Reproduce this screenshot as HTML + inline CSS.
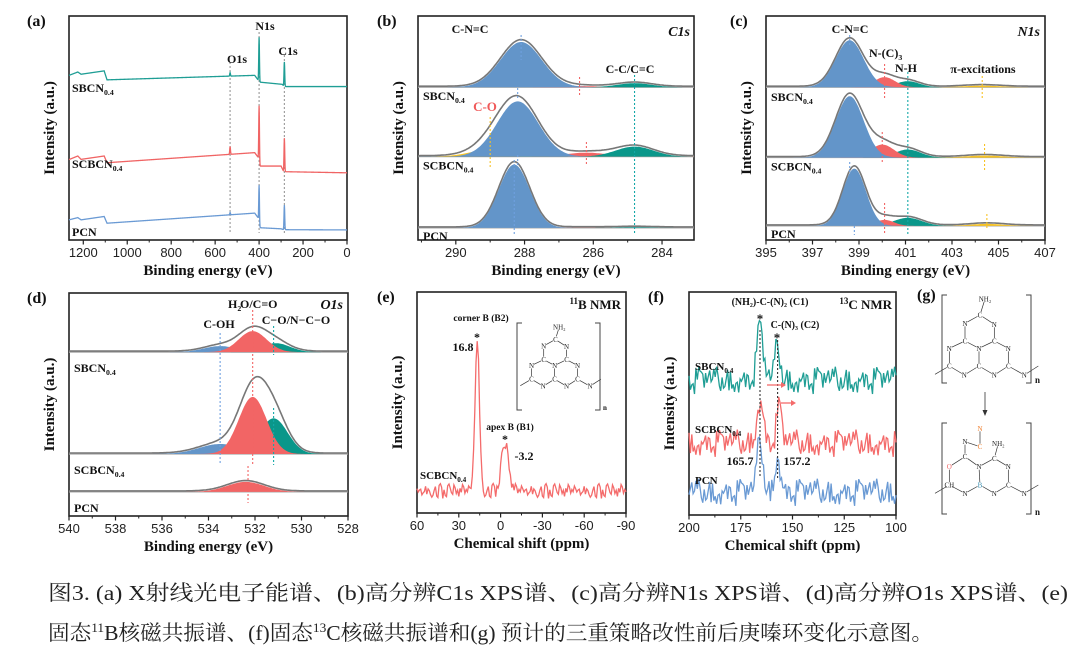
<!DOCTYPE html>
<html><head><meta charset="utf-8"><style>
html,body{margin:0;padding:0;background:#fff;width:1080px;height:662px;overflow:hidden}
svg{display:block}
.tl{font-family:"Liberation Sans",sans-serif;font-size:13px;fill:#222}
.bt{font-family:"Liberation Serif",serif;font-weight:bold}
.at{font-family:"Liberation Serif",serif;font-size:7px}
</style></head><body>
<svg id="fig" width="1080" height="662" viewBox="0 0 1080 662" xmlns="http://www.w3.org/2000/svg">
<rect width="1080" height="662" fill="#fff"/>
<g id="layer"></g>
<text x="48" y="600" font-family="'Liberation Serif','Noto Serif CJK SC',serif" font-size="21" fill="#222" textLength="1020" lengthAdjust="spacingAndGlyphs">图3. (a) X射线光电子能谱、(b)高分辨C1s XPS谱、(c)高分辨N1s XPS谱、(d)高分辨O1s XPS谱、(e)</text>
<text x="48" y="640" font-family="'Liberation Serif','Noto Serif CJK SC',serif" font-size="21" fill="#222" textLength="885" lengthAdjust="spacingAndGlyphs">固态<tspan font-size="13" dy="-8">11</tspan><tspan dy="8">B核磁共振谱、(f)固态</tspan><tspan font-size="13" dy="-8">13</tspan><tspan dy="8">C核磁共振谱和(g) 预计的三重策略改性前后庚嗪环变化示意图。</tspan></text>
</svg>
<script>
// ---------- DATA ----------
const surveyNames = ["SBCN0.4","SCBCN0.4","PCN"];
const surveyBaseSBCN = [[1265,73.5],[1225,75],[1210,74],[1105,75.5],[1092,71.5],[420,73.5],[405,71.5],[400,70.5],[295,69.5],[285,68.5],[0,68.5]];
const surveyBaseSCBCN = [[1265,35.9],[1225,37.5],[1210,36],[1105,37.5],[1092,34.5],[420,39],[405,37],[400,33],[300,33],[288,30.5],[0,30]];
const surveyBasePCN = [[1265,9],[1225,10],[1210,9],[1105,10.5],[1092,7.5],[420,12],[405,10],[400,5.5],[300,5],[288,4.6],[0,4.5]];
const surveyPeaksSBCN = [[400,20],[285,11],[532,1.5]];
const surveyPeaksSCBCN = [[400,27],[285,15],[532,3.5]];
const surveyPeaksPCN = [[400,19],[285,11],[532,1]];

// XPS rows: [center, height, sigma]
const c1sBase = [68.2,37.2,5.4];
const c1sBlue = [[288.1,20.2,0.6],[288.2,24.7,0.6],[288.3,28.3,0.45]];
const c1sRed = [[286.4,0.5,0.6],[286.2,1.8,0.6],[286.3,0.1,0.5]];
const c1sTeal = [[284.8,1.8,0.5],[284.8,4.5,0.55],[284.8,0.3,0.5]];
const c1sYellow = [[289.0,0,0.6],[289.0,3.1,0.6],[289.0,0,0.6]];

const n1sBase = [68.2,36.8,6.3];
const n1sBlue = [[398.6,21,0.6],[398.6,27.4,0.6],[398.8,25.6,0.5]];
const n1sRed = [[400.1,4.5,0.45],[400.0,5.8,0.5],[400.1,2.7,0.4]];
const n1sTeal = [[401.1,2.7,0.5],[401.1,3.6,0.55],[401.1,3.6,0.6]];
const n1sYellow = [[404.3,0.7,0.8],[404.4,0.9,0.8],[404.5,0.9,0.7]];

const o1sBase = [73.5,27.8,10.8];
const o1sBlue = [[533.5,2.7,0.7],[533.5,4.5,0.9],[533.5,0,0.7]];
const o1sRed = [[532.1,9.4,0.6],[532.1,25.6,0.6],[532.4,4.5,0.8]];
const o1sTeal = [[531.1,4,0.6],[531.2,16,0.6],[531.2,0,0.6]];
const o1sYellow = [[530,0,1],[530,0,1],[530,0,1]];

const bNmrBase = 10;
const bNmrPeaks = [[16.8,68,1.6],[-3.2,21,2.6]];
const cNmrBase = [60.5,32.3,10.3];
const cNmrPeaks = [[[165.7,23,1.5],[157.2,15,1.3]],[[165.7,19,1.6],[156.5,15,1.3]],[[165.7,23,1.4],[157.2,16.6,1.3]]];
const noise = [0.8,-1.2,1.5,-0.4,2.1,-1.8,0.3,1.1,-2.3,0.6,-0.9,1.9,-1.4,0.2,2.5,-0.7,-1.9,1.3,-0.2,0.9,-2.6,1.6,-0.5,0.4,-1.1,2.2,-1.6,0.7,1.4,-2.0,0.1,-0.8,1.8,-1.3,0.5,2.4,-2.2,-0.3,1.0,-1.5,1.7,-0.6,0.2];

// ---------- HELPERS ----------
const NS="http://www.w3.org/2000/svg";
const layer=document.getElementById('layer');
function mk(tag,attrs,parent){const e=document.createElementNS(NS,tag);for(const k in attrs)e.setAttribute(k,attrs[k]);(parent||layer).appendChild(e);return e;}
function txt(x,y,s,cls,extra,name){const ex=Object.assign({x:x,y:y,class:cls},extra||{});
 const col=ex.fill||(cls==='tl'?'#222':'#111');delete ex.fill;ex.style='fill:'+col;
 const t=mk('text',ex);t.textContent=s;
 
 
 return t;}
function sub(x,y,main,subs,size,name,fill){const t=mk('text',{x:x,y:y,class:'bt','font-size':size,style:'fill:'+(fill||'#111')});
 
 
 const a=mk('tspan',{},t);a.textContent=main;const b=mk('tspan',{'font-size':size*0.65,dy:3},t);b.textContent=subs;return t;}
function lin(d0,d1,r0,r1){return v=>r0+(v-d0)*(r1-r0)/(d1-d0);}
function gauss(x,p){return p[1]*Math.exp(-0.5*Math.pow((x-p[0])/p[2],2));}

function frame(P){
  const r=mk('rect',{x:P.x0,y:P.y0,width:P.x1-P.x0,height:P.y1-P.y0,fill:'none',stroke:'#222','stroke-width':1.6});
  
  
  P.xs=lin(P.d0,P.d1,P.x0,P.x1); P.ys=lin(0,100,P.y1,P.y0);
  for(const t of P.minor){const x=P.xs(t);const l=mk('line',{x1:x,x2:x,y1:P.y1,y2:P.y1+2.5,stroke:'#222','stroke-width':1});
    
    }
  for(const t of P.ticks){const x=P.xs(t);const l=mk('line',{x1:x,x2:x,y1:P.y1,y2:P.y1+4.5,stroke:'#222','stroke-width':1.2});
    
    
    txt(x,P.y1+17,String(t),'tl',{'text-anchor':'middle'},'x-tick-label');}
  txt((P.x0+P.x1)/2,P.y1+35,P.xt,'bt',{'text-anchor':'middle','font-size':15},'x-axis-title');
  txt(0,0,'Intensity (a.u.)','bt',{'text-anchor':'middle','font-size':15,transform:`translate(${P.x0-15},${(P.y0+P.y1)/2}) rotate(-90)`},'y-axis-title');
  txt(P.lx,P.y0+10,P.letter,'bt',{'font-size':16},'panel-letter');
}
function range(a,b,s){const r=[];for(let v=a;s>0?v<=b+1e-9:v>=b-1e-9;v+=s)r.push(+v.toFixed(3));return r;}
function dash(P,x,ya,yb,col,name){const l=mk('line',{x1:P.xs(x),x2:P.xs(x),y1:ya,y2:yb,stroke:col,'stroke-width':1.1,'stroke-dasharray':'2,2'});
  
  }

function xpsPanel(P,base,comps,cols,names){
  for(let r=0;r<3;r++){
    const b=base[r];
    const bl=mk('line',{x1:P.x0,x2:P.x1,y1:P.ys(b),y2:P.ys(b),stroke:'#aaa','stroke-width':1.2});
    
    
    const N=220;
    comps.forEach((c,ci)=>{
      const p=c[r]; if(p[1]<=0) return;
      let d=`M${P.x0},${P.ys(b)}`;
      for(let i=0;i<=N;i++){const e=P.d0+(P.d1-P.d0)*i/N;d+=` L${P.xs(e).toFixed(1)},${P.ys(b+gauss(e,p)).toFixed(1)}`;}
      d+=` L${P.x1},${P.ys(b)} Z`;
      const pa=mk('path',{d:d,fill:cols[ci],stroke:'none'});
      
      
    });
    let d='';
    for(let i=0;i<=N;i++){const e=P.d0+(P.d1-P.d0)*i/N;let s=0;comps.forEach(c=>{if(c[r][1]>0)s+=gauss(e,c[r]);});
      d+=(i?' L':'M')+P.xs(e).toFixed(1)+','+(P.ys(b+s*1.03)-1).toFixed(1);}
    const env=mk('path',{d:d,fill:'none',stroke:'#777','stroke-width':1.6});
    
    
  }
}
function rowLabels(P,base,offs){
  sub(P.x0+5,P.ys(base[0])+offs[0],'SBCN','0.4',12,'label-sbcn');
  sub(P.x0+5,P.ys(base[1])+offs[1],'SCBCN','0.4',12,'label-scbcn');
  txt(P.x0+5,P.ys(base[2])+offs[2],'PCN','bt',{'font-size':12},'label-pcn');
}

// ---------- (a) survey ----------
const A={name:'survey',x0:69,x1:347,y0:16,y1:240,d0:1265,d1:0,ticks:range(1200,0,-200),minor:range(1100,100,-200),xt:'Binding energy (eV)',lx:27,letter:'(a)'};
frame(A);
dash(A,532,62,233,'#999');dash(A,400,32,233,'#999');dash(A,285,55,233,'#999');
const surveyBases=[surveyBaseSBCN,surveyBaseSCBCN,surveyBasePCN];
const surveyPeaks=[surveyPeaksSBCN,surveyPeaksSCBCN,surveyPeaksPCN];
const surveyCols=['#1f9e95','#f06464','#6a9ad4'];
function interp(pts,e){for(let i=0;i<pts.length-1;i++){const a=pts[i],b=pts[i+1];if(e<=a[0]&&e>=b[0]){return a[1]+(b[1]-a[1])*(a[0]-e)/(a[0]-b[0]);}}return pts[pts.length-1][1];}
for(let s=0;s<3;s++){
  let d='';const N=1265;
  for(let i=0;i<=N;i++){const e=1265-i;let v=interp(surveyBases[s],e);surveyPeaks[s].forEach(p=>v+=gauss(e,[p[0],p[1],1.6]));
    d+=(i?' L':'M')+A.xs(e).toFixed(2)+','+A.ys(v).toFixed(2);}
  const pa=mk('path',{d:d,fill:'none',stroke:surveyCols[s],'stroke-width':1.3});
  
  
}
txt(237,63,'O1s','bt',{'font-size':12,'text-anchor':'middle'},'peak-label-o1s');
txt(265,30,'N1s','bt',{'font-size':12,'text-anchor':'middle'},'peak-label-n1s');
txt(288,55,'C1s','bt',{'font-size':12,'text-anchor':'middle'},'peak-label-c1s');
sub(72,92,'SBCN','0.4',12,'label-sbcn');sub(72,168,'SCBCN','0.4',12,'label-scbcn');txt(72,236,'PCN','bt',{'font-size':12},'label-pcn');

const BL='#6395c9',RD='#f26565',TL='#0a978a',YL='#f7c325';
// ---------- (b) C1s ----------
const B={name:'c1s',x0:418,x1:694,y0:16,y1:240,d0:291.1,d1:283.07,ticks:[290,288,286,284],minor:[291,289,287,285],xt:'Binding energy (eV)',lx:377,letter:'(b)'};
frame(B);
xpsPanel(B,c1sBase,[c1sYellow,c1sRed,c1sTeal,c1sBlue],[YL,RD,TL,BL],surveyNames);
dash(B,288.1,35,60,'#6fa0e0');dash(B,288.2,88,100,'#6fa0e0');dash(B,288.3,160,235,'#6fa0e0');dash(B,288.2,155,165,'#6fa0e0');
dash(B,284.8,75,235,'#14a8a8');dash(B,286.4,77,97,RD);dash(B,286.2,142,165,RD);dash(B,289.0,117,168,YL);
rowLabels(B,c1sBase,[13,13,12]);
txt(470,33,'C-N=C','bt',{'font-size':12,'text-anchor':'middle'},'peak-label-cnc');
txt(630,73,'C-C/C=C','bt',{'font-size':12,'text-anchor':'middle'},'peak-label-cc');
txt(690,36,'C1s','bt',{'font-size':14,'text-anchor':'end','font-style':'italic'},'panel-tag-c1s');
txt(485,111,'C-O','bt',{'font-size':13,'text-anchor':'middle',fill:'#f05a5a'},'peak-label-co');

// ---------- (c) N1s ----------
const C={name:'n1s',x0:766,x1:1045,y0:16,y1:240,d0:395,d1:407,ticks:range(395,407,2),minor:range(396,406,2),xt:'Binding energy (eV)',lx:730,letter:'(c)'};
frame(C);
xpsPanel(C,n1sBase,[n1sYellow,n1sTeal,n1sRed,n1sBlue],[YL,TL,RD,BL],surveyNames);
dash(C,398.6,35,45,'#6fa0e0');dash(C,398.6,162,172,'#6fa0e0');dash(C,398.8,226,235,'#6fa0e0');
dash(C,400.1,64,100,RD);dash(C,400.0,132,162,RD);dash(C,400.1,203,235,RD);
dash(C,401.1,72,235,'#14a8a8');
dash(C,404.3,76,98,YL);dash(C,404.4,144,170,YL);dash(C,404.5,214,230,YL);
rowLabels(C,n1sBase,[14,13,12]);
txt(850,33,'C-N=C','bt',{'font-size':12,'text-anchor':'middle'},'peak-label-cnc');
sub(869,57,'N-(C)','3',12,'peak-label-nc3');
txt(906,72,'N-H','bt',{'font-size':12,'text-anchor':'middle'},'peak-label-nh');
txt(983,73,'π-excitations','bt',{'font-size':12,'text-anchor':'middle'},'peak-label-pi');
txt(1040,36,'N1s','bt',{'font-size':14,'text-anchor':'end','font-style':'italic'},'panel-tag-n1s');

// ---------- (d) O1s ----------
const D={name:'o1s',x0:69,x1:348,y0:293,y1:516,d0:540,d1:528,ticks:range(540,528,-2),minor:range(539,529,-2),xt:'Binding energy (eV)',lx:27,letter:'(d)'};
frame(D);
xpsPanel(D,o1sBase,[o1sYellow,o1sBlue,o1sTeal,o1sRed],[YL,BL,TL,RD],surveyNames);
dash(D,533.5,333,465,'#6fa0e0');dash(D,532.1,310,465,RD);dash(D,531.2,326,355,'#14a8a8');dash(D,531.2,408,465,'#14a8a8');dash(D,532.3,466,503,RD);
rowLabels(D,o1sBase,[20,20,20]);
txt(219,328,'C-OH','bt',{'font-size':12,'text-anchor':'middle'},'peak-label-coh');
sub(228,308,'H','2',12,'peak-label-h2o');txt(240,308,'O/C=O','bt',{'font-size':12},'peak-label-co');
txt(296,324,'C−O/N−C−O','bt',{'font-size':12,'text-anchor':'middle'},'peak-label-ono');
txt(343,309,'O1s','bt',{'font-size':14,'text-anchor':'end','font-style':'italic'},'panel-tag-o1s');

// ---------- (e) 11B NMR ----------
const E={name:'b-nmr',x0:417,x1:626,y0:292,y1:513,d0:60,d1:-90,ticks:[60,30,0,-30,-60,-90],minor:[45,15,-15,-45,-75],xt:'Chemical shift (ppm)',lx:377,letter:'(e)'};
frame(E);
(function(){let d='';const N=170;for(let i=0;i<=N;i++){const e=60-150*i/N;let v=bNmrBase+noise[(i*3)%noise.length]*1.3;bNmrPeaks.forEach(p=>v+=gauss(e,p));
 d+=(i?' L':'M')+E.xs(e).toFixed(1)+','+E.ys(v).toFixed(1);}
 const pa=mk('path',{d:d,fill:'none',stroke:'#f46b6b','stroke-width':1.3});
 
 })();
(function(){const t=mk('text',{x:621,y:309,class:'bt','font-size':13,'text-anchor':'end',style:'fill:#111'});
 
 
 const a=mk('tspan',{'font-size':9,dy:-5},t);a.textContent='11';const b=mk('tspan',{dy:5},t);b.textContent='B NMR';})();
txt(481,321,'corner B (B2)','bt',{'font-size':9.5,'text-anchor':'middle'},'label-corner-b');
txt(477,341,'*','bt',{'font-size':12,'text-anchor':'middle'},'star');
txt(463,351,'16.8','bt',{'font-size':12,'text-anchor':'middle'},'value-16-8');
txt(510,430,'apex B (B1)','bt',{'font-size':9.5,'text-anchor':'middle'},'label-apex-b');
txt(505,443,'*','bt',{'font-size':12,'text-anchor':'middle'},'star');
txt(524,460,'-3.2','bt',{'font-size':12,'text-anchor':'middle'},'value-minus-3-2');
sub(420,479,'SCBCN','0.4',11,'label-scbcn');

// ---------- (f) 13C NMR ----------
const F={name:'c-nmr',x0:689,x1:896,y0:292,y1:515,d0:200,d1:100,ticks:[200,175,150,125,100],minor:[187.5,162.5,137.5,112.5],xt:'Chemical shift (ppm)',lx:648,letter:'(f)'};
frame(F);
const cCols=['#1f9e95','#f46b6b','#6a9ad4'];
for(let s=0;s<3;s++){let d='';const N=150;for(let i=0;i<=N;i++){const e=200-100*i/N;let v=cNmrBase[s]+noise[(i*5+s*11)%noise.length]*2.4;cNmrPeaks[s].forEach(p=>v+=gauss(e,p));
 d+=(i?' L':'M')+F.xs(e).toFixed(1)+','+F.ys(v).toFixed(1);}
 const pa=mk('path',{d:d,fill:'none',stroke:cCols[s],'stroke-width':1.3});
 
 }
dash(F,165.7,330,478,'#333');dash(F,157.2,340,478,'#333');
(function(){const ar=[[767,385,783],[781,403,793]];ar.forEach(a=>{const l=mk('line',{x1:a[0],x2:a[2],y1:a[1],y2:a[1],stroke:'#f46b6b','stroke-width':1.3});
 
 
 const h=mk('path',{d:`M${a[2]+3},${a[1]} L${a[2]-2},${a[1]-3} L${a[2]-2},${a[1]+3} Z`,fill:'#f46b6b'});
 
 });})();
txt(770,305,'(NH₂)-C-(N)₂ (C1)','bt',{'font-size':10,'text-anchor':'middle'},'label-c1');
(function(){const t=mk('text',{x:892,y:309,class:'bt','font-size':13,'text-anchor':'end',style:'fill:#111'});
 
 
 const a=mk('tspan',{'font-size':9,dy:-5},t);a.textContent='13';const b=mk('tspan',{dy:5},t);b.textContent='C NMR';})();
txt(760,323,'*','bt',{'font-size':13,'text-anchor':'middle'},'star');
txt(795,328,'C-(N)₃ (C2)','bt',{'font-size':10,'text-anchor':'middle'},'label-c2');
txt(777,342,'*','bt',{'font-size':13,'text-anchor':'middle'},'star');
txt(740,465,'165.7','bt',{'font-size':12,'text-anchor':'middle'},'value-165-7');
txt(797,465,'157.2','bt',{'font-size':12,'text-anchor':'middle'},'value-157-2');
sub(695,370,'SBCN','0.4',11,'label-scbcn');sub(695,433,'SCBCN','0.4',11,'label-scbcn');txt(695,484,'PCN','bt',{'font-size':11},'label-pcn');

// ---------- structures ----------
function bracket(x0,y0,x1,y1,name){const p=mk('path',{d:`M${x0+5},${y0} H${x0} V${y1} H${x0+5} M${x1-5},${y0} H${x1} V${y1} H${x1-5}`,fill:'none',stroke:'#444','stroke-width':1});
 
 }
function mol(ox,oy,sc,atoms,bonds,name,fs){const g=mk('g',{});
 
 
 bonds.forEach(b=>{const a=atoms[b[0]],c=atoms[b[1]];mk('line',{x1:ox+a[0]*sc,y1:oy+a[1]*sc,x2:ox+c[0]*sc,y2:oy+c[1]*sc,stroke:'#333','stroke-width':0.7},g);});
 atoms.forEach(a=>{if(!a[2])return;mk('rect',{x:ox+a[0]*sc-2.5,y:oy+a[1]*sc-3,width:5,height:6,fill:'#fff'},g);const t=mk('text',{x:ox+a[0]*sc,y:oy+a[1]*sc+2.5,class:'at','text-anchor':'middle','font-size':fs||7,style:'fill:'+(a[3]||'#222')},g);t.textContent=a[2];});}
const hepAtoms=[[240,90,'C'],[195,115,'N'],[283,118,'N'],[195,168,'C'],[283,168,'C'],[237,190,'N'],[148,190,'N'],[325,190,'N'],[148,243,'C'],[237,243,'C'],[325,243,'C'],[193,270,'N'],[283,270,'N'],[373,270,'N'],[415,243,''],[105,268,''],[255,42,'NH₂']];
const hepBonds=[[0,1],[0,2],[1,3],[2,4],[3,5],[4,5],[5,9],[3,6],[6,8],[8,11],[11,9],[9,12],[12,10],[10,7],[7,4],[10,13],[13,14],[8,15],[0,16]];
mol(900,285,1/3,hepAtoms,hepBonds,'heptazine-structure');
bracket(942,295,1031,383,'bracket-top');
txt(1035,383,'n','bt',{'font-size':9},'subscript-n');
(function(){const l=mk('line',{x1:985,y1:392,x2:985,y2:412,stroke:'#333','stroke-width':0.8});
 
 
 const h=mk('path',{d:'M985,416 L982.5,410 L987.5,410 Z',fill:'#333'});
 
 })();
const modAtoms=[[195,515,'C'],[195,470,'N'],[240,485,'C','#f08030'],[240,430,'N','#f08030'],[148,545,'O','#f06060'],[148,600,'CH'],[195,625,'N'],[240,600,'B','#3a8fb0'],[237,545,'N'],[283,520,'C'],[295,475,'NH₂'],[325,545,'N'],[325,600,'C'],[283,625,'N'],[373,625,'N'],[415,600,''],[105,625,'']];
const modBonds=[[0,1],[1,2],[2,3],[0,4],[4,5],[5,6],[6,7],[7,8],[8,0],[8,9],[9,10],[9,11],[11,12],[12,13],[13,7],[12,14],[14,15],[5,16]];
mol(900,285,1/3,modAtoms,modBonds,'modified-structure');
bracket(942,423,1031,514,'bracket-bottom');
txt(1035,515,'n','bt',{'font-size':9},'subscript-n');
txt(917,300,'(g)','bt',{'font-size':16},'panel-letter');
// small inset structure in (e)
mol(493,316,0.26,hepAtoms,hepBonds,'inset-structure-e',5.5);
bracket(517,323,600,410,'bracket-inset');
txt(603,410,'n','bt',{'font-size':7},'subscript-n');
</script>
</body></html>
